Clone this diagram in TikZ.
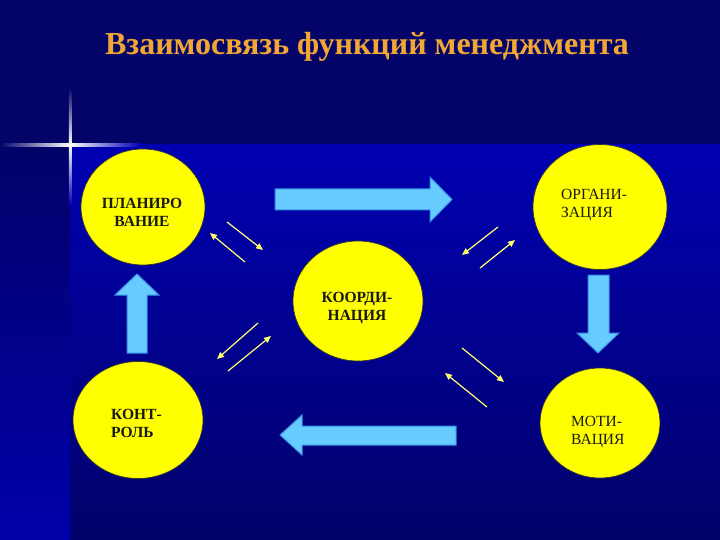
\documentclass[tikz,border=0pt]{standalone}
\usepackage{fontspec}
\setmainfont{Liberation Serif}
\usetikzlibrary{arrows.meta,shapes.geometric}
\definecolor{bgtop}{RGB}{4,4,104}
\definecolor{bgbright}{RGB}{0,0,178}
\definecolor{bgdark}{RGB}{2,2,106}
\definecolor{circyel}{RGB}{255,255,0}
\definecolor{titleor}{RGB}{242,166,52}
\definecolor{arrfill}{RGB}{102,204,255}
\definecolor{arrdraw}{RGB}{58,140,228}
\definecolor{smallyel}{RGB}{255,255,110}
\tikzset{
  circ/.style={ellipse, fill=circyel, draw=black!80, line width=0.7pt, inner sep=0pt},
  lbl/.style={font=\fontsize{15.5}{18}\selectfont, text=black!90, inner sep=0pt},
  bigarrow/.style={fill=arrfill, draw=arrdraw, line width=1pt, line join=miter},
  smallarr/.style={draw=smallyel, line width=1.2pt, -{Triangle[length=7pt,width=6pt]}},
}
\begin{document}
\begin{tikzpicture}[x=1pt,y=-1pt]
\useasboundingbox (0,0) rectangle (720,540);
% background
\fill[bgtop] (0,0) rectangle (720,540);
\shade[top color=bgbright, bottom color=bgdark] (70,145) rectangle (720,540);
\shade[top color=bgdark, bottom color=bgbright!95!black] (0,145) rectangle (70,540);
% star
\shade[left color=bgtop, right color=white] (0,143.8) rectangle (70,146.4);
\shade[left color=white, right color=bgbright] (70,143.8) rectangle (140,146.4);
\shade[top color=bgtop, bottom color=white] (68.8,88) rectangle (71.4,145);
\shade[top color=white, bottom color=bgbright] (68.8,145) rectangle (71.4,205);
\fill[white] (70.1,145.1) circle (2pt);
% title
\node (title) [font=\fontsize{32}{36}\bfseries\selectfont, text=titleor, inner sep=0pt] at (367,47) {Взаимосвязь функций менеджмента};
% circles
\node (plan) [circ, minimum width=124pt, minimum height=116pt] at (143,207) {};
\node (org)  [circ, minimum width=134pt, minimum height=125pt] at (600,207) {};
\node (mot)  [circ, minimum width=120pt, minimum height=110pt] at (600,423) {};
\node (kon)  [circ, minimum width=130pt, minimum height=117pt] at (138,420) {};
\node (koo)  [circ, minimum width=130pt, minimum height=120pt] at (358,301) {};
% labels
\node (tplan) [lbl, font=\fontsize{15.5}{18}\bfseries\selectfont, align=center] at (142,212) {ПЛАНИРО\\ВАНИЕ};
\node (torg) [lbl, align=left, anchor=west] at (561,205) {ОРГАНИ-\\ЗАЦИЯ};
\node (tmot) [lbl, align=left, anchor=west] at (571,432) {МОТИ-\\ВАЦИЯ};
\node (tkon) [lbl, font=\fontsize{15.5}{18}\bfseries\selectfont, align=left, anchor=west] at (111,423) {КОНТ-\\РОЛЬ};
\node (tkoo) [lbl, font=\fontsize{15.5}{18}\bfseries\selectfont, align=center] at (357,308) {КООРДИ-\\НАЦИЯ};
% big block arrows
\draw[bigarrow] (275,189) -- (430,189) -- (430,177) -- (452,199.5) -- (430,222) -- (430,210) -- (275,210) -- cycle;
\draw[bigarrow] (588,275) -- (609,275) -- (609,333) -- (619,333) -- (598,353) -- (577,333) -- (588,333) -- cycle;
\draw[bigarrow] (456,426) -- (302,426) -- (302,415) -- (280,435) -- (302,455) -- (302,445) -- (456,445) -- cycle;
\draw[bigarrow] (127,353) -- (127,295) -- (115,295) -- (137,274) -- (159,295) -- (147,295) -- (147,353) -- cycle;
% small arrows
\coordinate (a1) at (227,222); \coordinate (a2) at (263,250);
\coordinate (a3) at (245,262); \coordinate (a4) at (210,233);
\coordinate (b1) at (498,227); \coordinate (b2) at (462,255);
\coordinate (b3) at (480,268); \coordinate (b4) at (515,240);
\coordinate (c1) at (258,323); \coordinate (c2) at (217,359);
\coordinate (c3) at (228,371); \coordinate (c4) at (271,336);
\coordinate (d1) at (462,348); \coordinate (d2) at (504,382);
\coordinate (d3) at (487,407); \coordinate (d4) at (445,373);
\draw[smallarr] (a1) -- (a2);
\draw[smallarr] (a3) -- (a4);
\draw[smallarr] (b1) -- (b2);
\draw[smallarr] (b3) -- (b4);
\draw[smallarr] (c1) -- (c2);
\draw[smallarr] (c3) -- (c4);
\draw[smallarr] (d1) -- (d2);
\draw[smallarr] (d3) -- (d4);
\end{tikzpicture}
\end{document}
